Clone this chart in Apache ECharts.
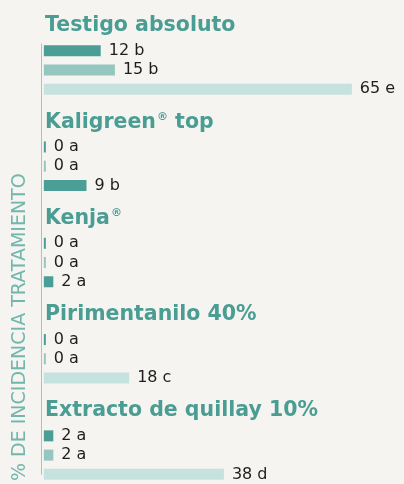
<!DOCTYPE html>
<html>
<head>
<meta charset="utf-8">
<script src="https://cdn.jsdelivr.net/npm/echarts@6/dist/echarts.min.js"></script>
<style>
  html, body { margin: 0; padding: 0; background: #f5f4f0; }
  #chart { width: 404px; height: 484px; }
</style>
</head>
<body>
<div id="chart"></div>
<script>
// tratamientos y valores (% incidencia) con letra de significancia
const treatments = ["Testigo absoluto", "Kaligreen® top", "Kenja®", "Pirimentanilo 40%", "Extracto de quillay 10%"];
const values = [[12, 15, 65], [0, 0, 9], [0, 0, 2], [0, 0, 18], [2, 2, 38]];
const letters = [["b", "b", "e"], ["a", "a", "b"], ["a", "a", "a"], ["a", "a", "c"], ["a", "a", "d"]];
const axisTitle = "% DE INCIDENCIA TRATAMIENTO";

// colores de barra (el original repite el oscuro en la 3a barra de Kaligreen y Kenja)
const palette = ["#4a9e96", "#95c6c0", "#c6e2df"];
const colorIdx = [[0, 1, 2], [0, 1, 0], [0, 1, 0], [0, 1, 2], [0, 1, 2]];

const rows = [];
const barData = [];
treatments.forEach((name, g) => {
  rows.push("gap" + g);
  barData.push("-");
  rows.push("title" + g);
  barData.push("-");
  values[g].forEach((v, i) => {
    rows.push("bar" + g + "_" + i);
    barData.push({
      value: v,
      letter: letters[g][i],
      itemStyle: { color: palette[colorIdx[g][i]] },
    });
  });
});

const chart = echarts.init(document.getElementById("chart"));
chart.setOption({
  backgroundColor: "#f5f4f0",
  animation: false,
  grid: [
    { left: 41, top: 2.5, width: 363, height: 485.25 },
    // grid auxiliar: solo linea del eje y titulo vertical
    { left: 41, top: 44, right: 0, bottom: 0 },
  ],
  xAxis: [
    { gridIndex: 0, type: "value", min: -0.6, max: 76, show: false },
    { gridIndex: 1, type: "value", min: 0, max: 1, show: false },
  ],
  yAxis: [
    {
      gridIndex: 0,
      type: "category",
      inverse: true,
      data: rows,
      axisLine: { show: false },
      axisTick: { show: false },
      axisLabel: {
        inside: true,
        interval: 0,
        margin: 4,
        padding: [0, 0, 11, 0],
        color: "#4a9d93",
        fontFamily: "DejaVu Sans",
        fontWeight: "bold",
        fontSize: 20.5,
        formatter: (key) => {
          if (key.indexOf("title") !== 0) return "";
          const name = treatments[Number(key.slice(5))];
          return name.split("®").join("{sup|®}");
        },
        rich: {
          sup: { fontSize: 11, verticalAlign: "top", color: "#4a9d93", fontFamily: "DejaVu Sans", padding: [0, 0, 8, 1] },
        },
      },
    },
    {
      gridIndex: 1,
      type: "value",
      min: 0,
      max: 1,
      axisLine: { show: true, lineStyle: { color: "#9cc9c3", width: 1 } },
      axisTick: { show: false },
      axisLabel: { show: false },
      splitLine: { show: false },
      name: axisTitle,
      nameLocation: "middle",
      nameGap: 11,
      nameTextStyle: { color: "#72b6ad", fontFamily: "DejaVu Sans", fontSize: 19, padding: [0, 136, 0, 0] },
    },
  ],
  series: [
    {
      type: "bar",
      xAxisIndex: 0,
      yAxisIndex: 0,
      data: barData,
      barWidth: 11,
      barMinHeight: 2,
      label: {
        show: true,
        position: "right",
        distance: 8,
        color: "#1e1e1e",
        fontFamily: "DejaVu Sans",
        fontSize: 16,
        formatter: (p) => p.value + " " + p.data.letter,
      },
    },
  ],
});
</script>
</body>
</html>
